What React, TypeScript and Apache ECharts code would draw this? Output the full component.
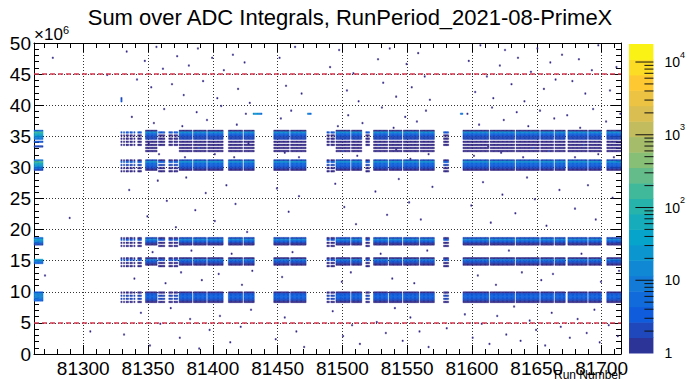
import React, { useEffect, useRef } from 'react';
import * as echarts from 'echarts';

const FONT = '"Liberation Sans", Arial, Helvetica, sans-serif';

// ---- axes ----
const xMin = 81262;
const xMax = 81715;
const yMin = 0;
const yMax = 50; // in units of 10^6
const binHeight = 0.25; // 10^6
const xMajorTicks = [81300, 81350, 81400, 81450, 81500, 81550, 81600, 81650, 81700];
const refLines = [5, 45];
const colorMax = 17700;
const colorDecades = [1, 10, 100, 1000, 10000];

// ---- palette (ROOT kBird) ----
const kBird = ['#352a87', '#0f5cdd', '#1481d6', '#06a4ca', '#2eb7a4', '#87bf77', '#d1bb59', '#fec832', '#f9fb0e'];

// ---- run groups: [firstRun, lastRun, level] level 1 = sparse, 2 = dense, 3 = first runs ----
const runGroups: [number, number, number][] = [
  [81262, 81268, 3],
  [81329, 81329, 1], [81331, 81331, 1], [81333, 81334, 1], [81336, 81337, 1], [81339, 81339, 1], [81342, 81344, 1],
  [81348, 81356, 2],
  [81358, 81362, 1],
  [81366, 81368, 1], [81370, 81372, 1],
  [81374, 81383, 2],
  [81385, 81394, 2],
  [81396, 81407, 2],
  [81412, 81422, 2], [81424, 81431, 2],
  [81447, 81458, 2], [81460, 81471, 2],
  [81488, 81489, 1], [81491, 81493, 1],
  [81495, 81505, 2], [81507, 81514, 2],
  [81518, 81520, 1],
  [81524, 81534, 2], [81536, 81545, 2],
  [81547, 81558, 2], [81560, 81570, 2],
  [81578, 81581, 1],
  [81593, 81612, 2], [81614, 81632, 2], [81634, 81651, 2], [81653, 81662, 2], [81664, 81671, 2],
  [81674, 81688, 2], [81690, 81699, 2],
  [81704, 81714, 2],
];

// ---- per-run y profiles: [yBinStart (10^6), counts] ----
const sparseProfile: [number, number][] = [
  [35.5, 3], [35.0, 1], [34.5, 1], [34.0, 1], [33.5, 1],
  [31.0, 1], [30.75, 4], [30.25, 2], [29.75, 1], [29.25, 1],
  [18.5, 1], [18.25, 3], [17.75, 1], [17.25, 1],
  [15.25, 1], [15.0, 3], [14.5, 1], [14.0, 1],
  [9.75, 1], [9.25, 2], [8.75, 2], [8.25, 1],
];
const denseProfile: [number, number][] = [
  [35.75, 1], [35.5, 20], [35.25, 5], [35.0, 3], [34.75, 2], [34.5, 2], [34.0, 1], [33.5, 1], [33.0, 1], [32.5, 1],
  [31.0, 2], [30.75, 25], [30.5, 5], [30.25, 4], [30.0, 3], [29.75, 2], [29.5, 1],
  [18.5, 2], [18.25, 14], [18.0, 4], [17.75, 2], [17.5, 1],
  [15.25, 1], [15.0, 10], [14.75, 3], [14.5, 2], [14.25, 1],
  [9.75, 1], [9.5, 3], [9.25, 4], [9.0, 4], [8.75, 3], [8.5, 2], [8.25, 1],
];
const edgeProfile: [number, number][] = [
  [35.75, 5], [35.5, 150], [35.25, 60], [35.0, 30], [34.75, 15], [34.5, 8], [34.0, 3], [33.25, 2],
  [31.0, 8], [30.75, 200], [30.5, 60], [30.25, 30], [30.0, 15], [29.75, 6], [29.5, 2],
  [18.5, 6], [18.25, 40], [18.0, 15], [17.75, 6], [17.5, 2],
  [15.0, 30], [14.75, 10], [14.5, 4],
  [9.75, 4], [9.5, 12], [9.25, 15], [9.0, 12], [8.75, 8], [8.5, 4],
];

// ---- isolated entries: [run, y (10^6)] with one count ----
const noiseDots: [number, number][] = [
  [81333, 48.6], [81341, 44.1], [81347, 47.2], [81352, 42.8], [81356, 49.3], [81361, 45.9], [81368, 43.4], [81372, 47.9],
  [81377, 41.6], [81381, 46.3], [81388, 49.0], [81392, 43.9], [81399, 47.5], [81403, 41.2], [81408, 45.6], [81415, 48.2],
  [81419, 42.5], [81424, 46.8], [81428, 40.4], [81451, 47.7], [81456, 43.1], [81463, 49.4], [81468, 41.9], [81490, 46.1],
  [81497, 48.8], [81503, 42.3], [81508, 45.2], [81512, 40.7], [81527, 47.3], [81531, 43.6], [81536, 49.1], [81541, 41.4],
  [81549, 46.6], [81553, 42.9], [81558, 48.4], [81563, 44.5], [81567, 40.9], [81597, 47.0], [81602, 42.2], [81606, 49.6],
  [81611, 44.7], [81616, 41.1], [81621, 46.4], [81625, 48.9], [81630, 43.3], [81635, 47.6], [81640, 40.6], [81645, 45.4],
  [81650, 49.2], [81655, 42.7], [81660, 46.9], [81664, 44.2], [81669, 48.1], [81677, 43.8], [81682, 47.4], [81687, 41.8],
  [81692, 45.7], [81697, 49.5], [81706, 42.4], [81711, 46.2],
  [81335, 26.3], [81349, 22.1], [81357, 27.8], [81364, 24.6], [81371, 20.4], [81379, 28.4], [81386, 23.2], [81394, 25.9],
  [81401, 21.3], [81410, 27.1], [81417, 24.0], [81426, 19.6], [81449, 26.7], [81458, 22.8], [81466, 25.3], [81494, 27.4],
  [81501, 23.7], [81510, 20.9], [81525, 26.0], [81534, 22.4], [81543, 28.1], [81551, 24.3], [81560, 21.6], [81569, 26.9],
  [81599, 23.9], [81608, 27.6], [81614, 21.0], [81623, 25.6], [81633, 22.6], [81642, 28.3], [81648, 24.9], [81657, 20.6],
  [81667, 26.4], [81679, 23.4], [81689, 27.2], [81695, 21.7], [81708, 25.1],
  [81339, 12.2], [81353, 16.3], [81363, 11.4], [81375, 13.1], [81383, 16.6], [81391, 11.9], [81404, 12.8], [81414, 16.1],
  [81422, 11.1], [81430, 13.4], [81453, 12.4], [81461, 16.4], [81499, 11.6], [81506, 13.0], [81529, 16.2], [81538, 12.0],
  [81555, 11.3], [81565, 16.7], [81604, 12.6], [81618, 11.0], [81628, 16.5], [81638, 13.2], [81653, 11.8], [81662, 12.9],
  [81684, 16.0], [81699, 11.5], [81713, 13.3],
  [81331, 3.1], [81344, 6.7], [81351, 1.4], [81359, 4.8], [81367, 7.4], [81374, 2.6], [81382, 5.5], [81389, 0.8],
  [81397, 3.9], [81405, 6.2], [81413, 1.9], [81421, 4.4], [81429, 7.1], [81448, 2.3], [81455, 5.8], [81464, 3.5],
  [81470, 1.2], [81492, 6.9], [81500, 2.8], [81507, 4.6], [81513, 1.6], [81526, 5.1], [81533, 3.3], [81540, 7.3],
  [81546, 2.0], [81552, 5.9], [81559, 3.7], [81566, 1.0], [81580, 4.1], [81594, 6.4], [81600, 2.5], [81607, 4.9],
  [81613, 1.7], [81619, 6.0], [81626, 3.0], [81632, 7.5], [81637, 2.2], [81644, 5.3], [81649, 3.8], [81656, 1.3],
  [81661, 6.6], [81668, 4.3], [81675, 2.7], [81681, 5.6], [81688, 3.4], [81694, 7.0], [81698, 1.8], [81705, 4.7],
  [81712, 2.9],
  [81337, 38.2], [81354, 37.1], [81362, 39.4], [81376, 36.6], [81387, 38.9], [81395, 37.5], [81406, 39.8], [81418, 36.9],
  [81425, 38.5], [81452, 37.8], [81460, 39.1], [81496, 36.7], [81504, 38.3], [81515, 37.2], [81530, 39.6], [81539, 36.4],
  [81548, 38.0], [81557, 37.4], [81564, 39.2], [81596, 38.6], [81605, 36.8], [81615, 39.7], [81624, 37.6], [81634, 38.8],
  [81643, 36.5], [81652, 39.0], [81663, 37.9], [81673, 38.4], [81683, 36.3], [81693, 39.3], [81703, 37.3], [81714, 38.7],
  [81350, 33.9], [81358, 32.1], [81378, 31.6], [81389, 33.1], [81401, 32.0], [81416, 31.7], [81427, 33.8], [81455, 32.3],
  [81466, 31.5], [81500, 32.6], [81511, 31.8], [81528, 33.6], [81541, 32.9], [81552, 31.4], [81566, 32.2], [81601, 31.9],
  [81612, 33.4], [81622, 32.4], [81639, 31.6], [81647, 33.2], [81659, 32.7], [81679, 31.5], [81686, 33.7], [81697, 32.1],
  [81709, 31.7],
  [81276, 47.5], [81289, 21.8], [81305, 3.6], [81318, 44.8], [81270, 12.5],
];

// ---- short features: [run, yBinStart, counts] ----
const featureCells: [number, number, number][] = [
  [81431, 38.5, 15], [81432, 38.5, 20], [81433, 38.5, 25], [81434, 38.5, 20], [81435, 38.5, 15], [81436, 38.5, 10], [81437, 38.5, 6],
  [81473, 38.5, 8], [81474, 38.5, 12], [81475, 38.5, 6],
  [81591, 38.5, 6], [81592, 38.5, 8],
  [81329, 40.5, 3], [81329, 40.75, 3], [81329, 41.0, 2],
];

const profiles: Record<number, [number, number][]> = { 1: sparseProfile, 2: denseProfile, 3: edgeProfile };

function buildCells(): number[][] {
  const map = new Map<string, number>();
  const add = (run: number, y: number, c: number) => {
    const key = run + '|' + y;
    map.set(key, (map.get(key) || 0) + c);
  };
  for (const [a, b, level] of runGroups) {
    const prof = profiles[level];
    for (let r = a; r <= b; r++) for (const [y, c] of prof) add(r, y, c);
  }
  for (const [r, y] of noiseDots) add(r, Math.floor(y / binHeight) * binHeight, 1);
  for (const [r, y, c] of featureCells) add(r, y, c);
  const out: number[][] = [];
  map.forEach((c, k) => {
    const [r, y] = k.split('|').map(Number);
    out.push([r, y, c, Math.log10(c)]);
  });
  return out;
}

const logMax = Math.log10(colorMax);
const nContours = 20;

function buildColorbar(): number[][] {
  const out: number[][] = [];
  for (let i = 0; i < nContours; i++) {
    const lo = (i * logMax) / nContours;
    const hi = ((i + 1) * logMax) / nContours;
    out.push([0, Math.pow(10, lo), Math.pow(10, hi), (lo + hi) / 2]);
  }
  return out;
}

function buildColorTicks(): number[][] {
  const out: number[][] = [];
  for (const d of colorDecades) {
    if (d > 1) out.push([1, d, 1]);
    for (let m = 2; m <= 9; m++) if (d * m <= colorMax) out.push([1, d * m, 0]);
  }
  return out;
}

const xMinorTicks: number[] = [];
for (let v = Math.ceil(xMin / 10) * 10; v <= xMax; v += 10) if (v % 50 !== 0) xMinorTicks.push(v);

export default function App() {
  const ref = useRef<HTMLDivElement>(null);
  useEffect(() => {
    if (!ref.current) return;
    const chart = echarts.init(ref.current, undefined, { renderer: 'svg' });
    const cells = buildCells();
    const axisCommon = {
      axisLine: { show: true, onZero: false, lineStyle: { color: '#000', width: 1 } },
    };
    const option: any = {
      animation: false,
      backgroundColor: '#fff',
      grid: [
        { left: 34, top: 43, width: 587, height: 311, containLabel: false },
        { left: 629, top: 44, width: 32, height: 309, containLabel: false },
      ],
      xAxis: [
        {
          gridIndex: 0, type: 'value', min: xMin, max: xMax, position: 'bottom', splitNumber: 9,
          ...axisCommon,
          axisTick: { show: true, inside: true, length: 9, customValues: xMajorTicks, lineStyle: { color: '#000' } },
          axisLabel: { show: true, customValues: xMajorTicks, formatter: (v: number) => String(v), fontSize: 19, color: '#000', fontFamily: FONT, margin: 5 },
          splitLine: { show: true, lineStyle: { type: [1, 2], color: '#333', width: 1 } },
        },
        {
          gridIndex: 0, type: 'value', min: xMin, max: xMax, position: 'bottom',
          axisLine: { show: false, onZero: false },
          axisTick: { show: true, inside: true, length: 5, customValues: xMinorTicks, lineStyle: { color: '#000' } },
          axisLabel: { show: false }, splitLine: { show: false },
        },
        {
          gridIndex: 0, type: 'value', min: xMin, max: xMax, position: 'top', splitNumber: 9,
          ...axisCommon,
          axisTick: { show: true, inside: true, length: 9, customValues: xMajorTicks, lineStyle: { color: '#000' } },
          axisLabel: { show: false }, splitLine: { show: false },
        },
        {
          gridIndex: 0, type: 'value', min: xMin, max: xMax, position: 'top',
          axisLine: { show: false, onZero: false },
          axisTick: { show: true, inside: true, length: 5, customValues: xMinorTicks, lineStyle: { color: '#000' } },
          axisLabel: { show: false }, splitLine: { show: false },
        },
        { gridIndex: 1, type: 'value', min: 0, max: 1, show: false },
      ],
      yAxis: [
        {
          gridIndex: 0, type: 'value', min: yMin, max: yMax, interval: 5, position: 'left',
          ...axisCommon,
          axisTick: { show: true, inside: true, length: 10, lineStyle: { color: '#000' } },
          minorTick: { show: true, splitNumber: 5, length: 5, lineStyle: { color: '#000' } },
          axisLabel: { fontSize: 19, color: '#000', fontFamily: FONT, margin: 3 },
          splitLine: { show: true, lineStyle: { type: [1, 2], color: '#333', width: 1 } },
        },
        {
          gridIndex: 0, type: 'value', min: yMin, max: yMax, interval: 5, position: 'right',
          ...axisCommon,
          axisTick: { show: true, inside: true, length: 10, lineStyle: { color: '#000' } },
          minorTick: { show: true, splitNumber: 5, length: 5, lineStyle: { color: '#000' } },
          axisLabel: { show: false }, splitLine: { show: false },
        },
        {
          gridIndex: 1, type: 'log', logBase: 10, min: 1, max: colorMax, position: 'right',
          axisLine: { show: false }, axisTick: { show: false }, splitLine: { show: false },
          axisLabel: {
            margin: 11, showMaxLabel: false, color: '#000',
            formatter: (v: number) => {
              const e = Math.round(Math.log10(v));
              if (e === 0) return '{b|1}';
              if (e === 1) return '{b|10}';
              return '{b|10}{s|' + e + '}';
            },
            rich: {
              b: { fontSize: 14, fontFamily: FONT, color: '#000', lineHeight: 24 },
              s: { fontSize: 9, fontFamily: FONT, color: '#000', verticalAlign: 'top' },
            },
          },
        },
      ],
      visualMap: {
        type: 'continuous', show: false, min: 0, max: logMax, dimension: 3, seriesIndex: [0, 1],
        inRange: { color: kBird },
      },
      series: [
        {
          type: 'custom', xAxisIndex: 0, yAxisIndex: 0, clip: true, silent: true,
          encode: { x: 0, y: 1 },
          data: cells,
          renderItem: (params: any, api: any) => {
            const x = api.value(0);
            const y = api.value(1);
            const p0 = api.coord([x, y + binHeight]);
            const p1 = api.coord([x + 1, y]);
            const c = api.visual('color');
            return {
              type: 'rect',
              shape: { x: p0[0], y: p0[1], width: p1[0] - p0[0], height: p1[1] - p0[1] },
              style: { fill: c, stroke: c, lineWidth: 0.4 },
            };
          },
          z: 2,
        },
        {
          type: 'custom', xAxisIndex: 4, yAxisIndex: 2, silent: true,
          encode: { x: 0, y: [1, 2] },
          data: buildColorbar(),
          renderItem: (params: any, api: any) => {
            const p0 = api.coord([0, api.value(2)]);
            const p1 = api.coord([1, api.value(1)]);
            return {
              type: 'rect',
              shape: { x: p0[0], y: p0[1], width: p1[0] - p0[0], height: p1[1] - p0[1] + 0.5 },
              style: { fill: api.visual('color') },
            };
          },
          z: 2,
        },
        {
          type: 'custom', xAxisIndex: 4, yAxisIndex: 2, silent: true,
          encode: { x: 0, y: 1 },
          data: buildColorTicks(),
          renderItem: (params: any, api: any) => {
            const p = api.coord([1, api.value(1)]);
            const len = api.value(2) ? 18 : 9;
            return {
              type: 'line',
              shape: { x1: p[0] - len, y1: p[1], x2: p[0], y2: p[1] },
              style: { stroke: '#111', lineWidth: 1 },
            };
          },
          z: 3,
        },
        ...refLines.map((v) => ({
          type: 'line', xAxisIndex: 0, yAxisIndex: 0, silent: true, symbol: 'none', z: 5,
          data: [[xMin, v], [xMax, v]],
          lineStyle: { color: '#d2384f', type: [5, 3], width: 1.5 },
        })),
      ],
      graphic: [
        {
          type: 'text', x: 350, y: 6,
          style: { text: 'Sum over ADC Integrals, RunPeriod_2021-08-PrimeX', fontSize: 22, fontFamily: FONT, fill: '#000', align: 'center', verticalAlign: 'top' },
        },
        {
          type: 'text', x: 34, y: 43,
          style: { text: '\u00d710', fontSize: 17, fontFamily: FONT, fill: '#000', align: 'left', verticalAlign: 'bottom' },
        },
        {
          type: 'text', x: 63, y: 24,
          style: { text: '6', fontSize: 11, fontFamily: FONT, fill: '#000', align: 'left', verticalAlign: 'top' },
        },
        {
          type: 'text', x: 622, y: 369,
          style: { text: 'Run Number', fontSize: 12, fontFamily: FONT, fill: '#000', align: 'right', verticalAlign: 'top' },
        },
      ],
    };
    chart.setOption(option);
    return () => chart.dispose();
  }, []);
  return <div ref={ref} style={{ position: 'fixed', left: 0, top: 0, width: 688, height: 381, background: '#fff' }} />;
}
